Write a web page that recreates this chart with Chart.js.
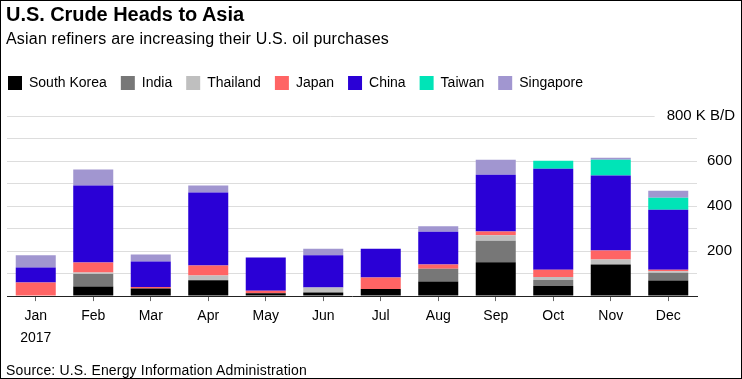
<!DOCTYPE html>
<html>
<head>
<meta charset="utf-8">
<script src="https://cdn.jsdelivr.net/npm/chart.js@4"></script>
<style>
  html, body { margin: 0; padding: 0; background: #fff; }
  #wrap { position: relative; width: 742px; height: 379px; overflow: hidden; font-family: "Liberation Sans", Arial, Helvetica, sans-serif; color: #000; }
  #c { position: absolute; left: 0; top: 0; }
  .txt { position: absolute; left: 6px; white-space: nowrap; }
  #title { top: 4px; font-size: 20px; line-height: 20px; font-weight: bold; }
  #subtitle { top: 31px; font-size: 16px; line-height: 16px; }
  #source { top: 363px; font-size: 14px; line-height: 14px; }
  #frame { position: absolute; left: 0; top: 0; width: 742px; height: 379px; box-sizing: border-box; border: 1px solid #000; pointer-events: none; }
</style>
</head>
<body>
<div id="wrap">
  <canvas id="c" width="742" height="379"></canvas>
  <div id="title" class="txt">U.S. Crude Heads to Asia</div>
  <div id="subtitle" class="txt">Asian refiners are increasing their U.S. oil purchases</div>
  <div id="source" class="txt">Source: U.S. Energy Information Administration</div>
  <div id="frame"></div>
</div>
<script>
// ---- data (thousand barrels per day) ----
const categories = ['Jan', 'Feb', 'Mar', 'Apr', 'May', 'Jun', 'Jul', 'Aug', 'Sep', 'Oct', 'Nov', 'Dec'];
const firstYear = '2017';
const seriesNames = ['South Korea', 'India', 'Thailand', 'Japan', 'China', 'Taiwan', 'Singapore'];
const southKorea = [0, 43, 34, 70, 13, 16, 32, 65, 150, 45, 140, 69];
const india      = [0, 55, 0, 0, 0, 0, 0, 56, 96, 27, 0, 35];
const thailand   = [0, 7, 0, 22, 0, 22, 0, 0, 24, 13, 23, 6];
const japan      = [60, 44, 6, 44, 11, 0, 51, 19, 17, 32, 40, 7];
const china      = [67, 342, 114, 324, 148, 143, 127, 146, 252, 449, 333, 267];
const taiwan     = [0, 0, 0, 0, 0, 0, 0, 0, 0, 35, 70, 53];
const singapore  = [54, 71, 31, 31, 0, 29, 0, 24, 67, 0, 9, 31];
const yTickLabels = [200, 400, 600];
const yTopValue = 800;
const yUnit = 'K B/D';

// ---- styles ----
const FONT = '"Liberation Sans", Arial, Helvetica, sans-serif';
const seriesColors = ['#000000', '#777777', '#bfbfbf', '#ff6464', '#2a00d6', '#00e4b7', '#a196d0'];
const seriesValues = [southKorea, india, thailand, japan, china, taiwan, singapore];

// fit header/footer text widths to the reference typeface widths
[['title', 238], ['subtitle', 383], ['source', 301]].forEach(([id, target]) => {
  const el = document.getElementById(id);
  const w = el.getBoundingClientRect().width;
  const n = el.textContent.length;
  el.style.letterSpacing = ((target - w) / n).toFixed(3) + 'px';
});

const decor = {
  id: 'decor',
  afterLayout(chart) {
    const lg = chart.legend;
    if (lg) { lg.left -= 13; lg.top -= 16; }
  },
  beforeDatasetsDraw(chart) {
    const ctx = chart.ctx, ys = chart.scales.y, area = chart.chartArea;
    ctx.save();
    ctx.font = '15px ' + FONT;
    const text = yTopValue + ' ' + yUnit;
    const w = ctx.measureText(text).width;
    const xr = area.right + 38;
    const py = Math.round(ys.getPixelForValue(yTopValue)) + 0.5;
    ctx.strokeStyle = '#dddddd';
    ctx.lineWidth = 1;
    ctx.beginPath();
    ctx.moveTo(area.left, py);
    ctx.lineTo(xr - w - 12, py);
    ctx.stroke();
    ctx.restore();
  },
  afterDraw(chart) {
    const ctx = chart.ctx, ys = chart.scales.y, area = chart.chartArea;
    ctx.save();
    ctx.font = '15px ' + FONT;
    ctx.fillStyle = '#000';
    ctx.textAlign = 'right';
    ctx.textBaseline = 'middle';
    ctx.fillText(yTopValue + ' ' + yUnit, area.right + 38, ys.getPixelForValue(yTopValue));
    ctx.restore();
  }
};

new Chart(document.getElementById('c'), {
  type: 'bar',
  data: {
    labels: categories,
    datasets: seriesNames.map((name, i) => ({
      label: name,
      data: seriesValues[i],
      backgroundColor: seriesColors[i],
      borderWidth: 0,
      categoryPercentage: 1,
      barPercentage: 0.696
    }))
  },
  options: {
    responsive: false,
    animation: false,
    layout: { padding: { top: 78, left: 7, right: 0, bottom: 26.5 } },
    plugins: {
      legend: {
        position: 'top',
        align: 'start',
        labels: {
          boxWidth: 14, boxHeight: 14, padding: 14,
          color: '#000',
          font: { size: 14, family: FONT }
        }
      },
      tooltip: { enabled: false }
    },
    scales: {
      x: {
        stacked: true,
        grid: { display: true, drawOnChartArea: false, drawTicks: true, tickLength: 5, offset: false, color: '#666666', lineWidth: 1 },
        border: { display: true, color: '#222222', width: 1 },
        ticks: {
          color: '#000',
          padding: 4,
          font: { size: 14, family: FONT, lineHeight: 1.55 },
          maxRotation: 0,
          autoSkip: false,
          callback: (v, i) => i === 0 ? [categories[i], firstYear] : categories[i]
        }
      },
      y: {
        stacked: true,
        position: 'right',
        min: 0,
        max: yTopValue,
        afterFit(scale) { scale.width = 45; },
        grid: {
          drawTicks: false,
          lineWidth: 1,
          color: (c) => (c.tick && (c.tick.value === 0 || c.tick.value === yTopValue)) ? 'rgba(0,0,0,0)' : '#dddddd'
        },
        border: { display: false },
        ticks: {
          stepSize: 100,
          padding: 10,
          color: '#000',
          font: { size: 15, family: FONT },
          callback: (v) => yTickLabels.includes(v) ? String(v) : ''
        }
      }
    }
  },
  plugins: [decor]
});
</script>
</body>
</html>
